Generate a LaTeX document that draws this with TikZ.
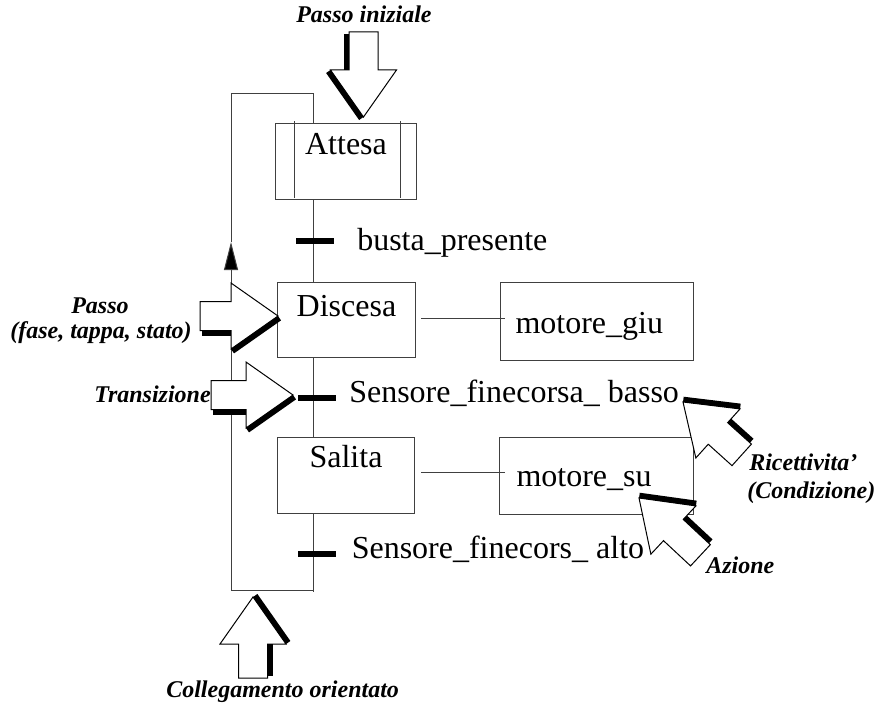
\documentclass[tikz,border=0pt]{standalone}
\usepackage{fontspec}
\setmainfont{Liberation Serif}
\usetikzlibrary{arrows.meta}

% Hollow block arrow with a heavy shadow along its right-hand edges.
% Drawn pointing along +x with its tip at the origin; #1 = overall length.
\tikzset{
  pics/bigarrow/.style={code={
    \fill[white,draw=black,line width=0.75pt]
      (0,0) -- (-47,-33) -- (-47,-14.5) -- (-#1,-14.5) -- (-#1,14.5)
      -- (-47,14.5) -- (-47,33) -- cycle;
    \draw[line width=4pt] (-47,17.2) -- (-#1+2,17.2);
    \draw[line width=4pt] (-45.5,35.2) -- (1.5,2.2);
  }},
  pics/bigarrow/.default=80,
}

\begin{document}
\begin{tikzpicture}[x=0.75pt,y=-0.75pt,
  wire/.style={draw=black!75,line width=0.75pt},
  stepbox/.style={draw=black!75,line width=0.75pt,fill=white,anchor=north west,
    inner xsep=0pt,inner ysep=0pt,font=\fontsize{24}{28}\selectfont},
  tbar/.style={fill=black,inner sep=0pt,minimum width=28.5pt,minimum height=4.5pt},
  tlab/.style={anchor=base west,inner sep=0pt,font=\fontsize{24}{28}\selectfont},
  note/.style={anchor=base west,inner sep=0pt,font=\fontsize{18}{21}\selectfont\bfseries\itshape},
]
\useasboundingbox (0,0) rectangle (877,706);

% steps and actions
\node[stepbox,minimum width=105.75pt,text height=23.25pt,text depth=33.4pt] (attesa) at (275,123) {Attesa};
\node[stepbox,minimum width=103.5pt,text height=25.5pt,text depth=30.75pt] (discesa) at (277,282) {Discesa};
\node[stepbox,minimum width=102.75pt,text height=22.5pt,text depth=34.5pt] (salita) at (277,437) {Salita};
\node[stepbox,inner xsep=11.25pt,text width=122.25pt,align=left,text height=38.25pt,text depth=19.9pt] (motgiu) at (500,282) {motore\_giu};
\node[stepbox,inner xsep=12.75pt,text width=120pt,align=left,text height=36.75pt,text depth=21pt] (motsu) at (499,437) {motore\_su};

% double bars of the initial step
\draw[wire] ([xshift=14.25pt,yshift=1.2pt]attesa.north west) -- ([xshift=14.25pt,yshift=0.8pt]attesa.south west);
\draw[wire] ([xshift=-12.75pt,yshift=1.2pt]attesa.north east) -- ([xshift=-12.75pt,yshift=0.8pt]attesa.south east);

% main flow line
\coordinate (spine) at (313,0);
\coordinate (spineend) at (313,592);
\draw[wire] (attesa.south -| spine) -- (discesa.north -| spine);
\draw[wire] (discesa.south -| spine) -- (salita.north -| spine);
\draw[wire] (salita.south -| spine) -- (spineend);

% return loop back to the initial step
\coordinate (loopbl) at (231,590);
\coordinate (looptip) at (231,242);
\coordinate (looptl) at (231,94);
\coordinate (looptr) at (313,94);
\draw[wire,-{Triangle[length=21pt,width=10.5pt,fill=black]}] (loopbl -| spine) -- (loopbl) -- (looptip);
\draw[wire] (looptip) -- (looptl) -- (looptr) -- (attesa.north -| spine);

% step to action links
\draw[wire] ([shift={(5,-2)}]discesa.east) -- ([shift={(5,-2)}]discesa.east -| motgiu.west);
\draw[wire] ([shift={(6,-3)}]salita.east) -- ([shift={(6,-3)}]salita.east -| motsu.west);

% transitions
\node[tbar] (t1) at (315,241) {};
\node[tbar] (t2) at (316.5,398) {};
\node[tbar] (t3) at (317,554) {};
\node[tlab] (t1l) at (357,250) {busta\_presente};
\node[tlab] (t2l) at (349,402) {Sensore\_finecorsa\_ basso};
\node[tlab] (t3l) at (351.5,558) {Sensore\_finecors\_ alto};

% pointer arrows
\pic[rotate=-90] (initarrow) at (363.5,117) {bigarrow=85};
\pic (steparrow) at (278,316) {bigarrow=78};
\pic (transarrow) at (293,395) {bigarrow=82};
\pic[rotate=90] (linkarrow) at (253,597) {bigarrow=81};
\pic[rotate=138] (condarrow) at (683,402) {bigarrow=79};
\pic[rotate=137] (actarrow) at (639,498) {bigarrow=84};

% annotations
\node[note] (n1) at (296,23) {Passo iniziale};
\node[note,anchor=base] (n2) at (100,313) {Passo};
\node[note,anchor=base] (n3) at (101,338) {(fase, tappa, stato)};
\node[note] (n4) at (94,402) {Transizione};
\node[note] (n5) at (749,470) {Ricettivita'};
\node[note] (n6) at (747,498) {(Condizione)};
\node[note] (n7) at (706,573) {Azione};
\node[note] (n8) at (166,697) {Collegamento orientato};
\end{tikzpicture}
\end{document}
